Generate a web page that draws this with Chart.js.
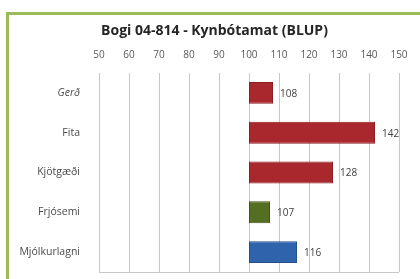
<!DOCTYPE html>
<html>
<head>
<meta charset="utf-8">
<script src="https://cdn.jsdelivr.net/npm/chart.js@4"></script>
<style>
  html, body { margin: 0; padding: 0; background: #fff; overflow: hidden; }
  #frame {
    position: absolute; left: 6px; top: 12px;
    width: 411px; height: 264px; overflow: hidden;
    border-top: 3px solid #9bbb59;
    border-left: 3px solid #9bbb59;
  }
  #chart { display: block; }
</style>
</head>
<body>
<div id="frame"><canvas id="chart" width="411" height="264"></canvas></div>
<script>
var categories = ['Gerð', 'Fita', 'Kjötgæði', 'Frjósemi', 'Mjólkurlagni'];
var values = [108, 142, 128, 107, 116];
var baseline = 100;
var barColors = ['#a8282d', '#a8282d', '#a8282d', '#546f22', '#2f64ac'];
var barBorders = ['#8a1f23', '#8a1f23', '#8a1f23', '#41561a', '#244f8a'];
var xMin = 50, xMax = 150, xStep = 10;
var fontFamily = '"Open Sans", sans-serif';

var bottomLine = {
    id: 'bottomLine',
    afterDraw: function (chart) {
        var a = chart.chartArea, ctx = chart.ctx;
        ctx.save();
        ctx.strokeStyle = '#c8c8c8';
        ctx.lineWidth = 1;
        ctx.beginPath();
        ctx.moveTo(a.left, Math.round(a.bottom) + 0.5);
        ctx.lineTo(a.right, Math.round(a.bottom) + 0.5);
        ctx.stroke();
        ctx.restore();
    }
};

var valueLabels = {
    id: 'valueLabels',
    afterDatasetsDraw: function (chart) {
        var ctx = chart.ctx;
        var meta = chart.getDatasetMeta(0);
        ctx.save();
        ctx.font = '10px ' + fontFamily;
        ctx.fillStyle = '#404040';
        ctx.textBaseline = 'middle';
        ctx.textAlign = 'left';
        meta.data.forEach(function (bar, i) {
            ctx.fillText(String(values[i]), bar.x + 7, bar.y + 1);
        });
        ctx.restore();
    }
};

var ctx = document.getElementById('chart').getContext('2d');
window.myBar = new Chart(ctx, {
    type: 'bar',
    data: {
        labels: categories,
        datasets: [{
            data: values.map(function (v) { return [baseline, v]; }),
            backgroundColor: barColors,
            borderColor: barBorders,
            borderWidth: 1,
            borderSkipped: false,
            categoryPercentage: 1,
            barPercentage: 0.55
        }]
    },
    options: {
        indexAxis: 'y',
        responsive: false,
        animation: false,
        layout: { padding: { left: 0, right: 0, top: 0, bottom: 7 } },
        plugins: {
            legend: { display: false },
            tooltip: { enabled: false },
            title: {
                display: true,
                text: 'Bogi 04-814 - Kynbótamat (BLUP)',
                color: '#262626',
                font: { family: fontFamily, size: 14, weight: 'bold' },
                padding: { top: 8, bottom: 4 }
            }
        },
        scales: {
            x: {
                position: 'top',
                min: xMin,
                max: xMax,
                ticks: {
                    stepSize: xStep,
                    padding: 12,
                    color: '#595959',
                    font: { family: fontFamily, size: 10 }
                },
                grid: { color: '#c8c8c8', drawTicks: false },
                border: { display: false },
                afterFit: function (scale) {
                    scale.height = 29.2;
                    scale.paddingRight = 21;
                }
            },
            y: {
                ticks: {
                    padding: 11,
                    color: '#4a4a4a',
                    font: function (c) {
                        return {
                            family: fontFamily,
                            size: 10.5,
                            style: c.index === 0 ? 'italic' : 'normal'
                        };
                    }
                },
                grid: { display: false },
                border: { display: false },
                afterFit: function (scale) {
                    scale.width = 90;
                    scale.paddingTop = 0;
                    scale.paddingBottom = 0;
                }
            }
        }
    },
    plugins: [bottomLine, valueLabels]
});
</script>
</body>
</html>
